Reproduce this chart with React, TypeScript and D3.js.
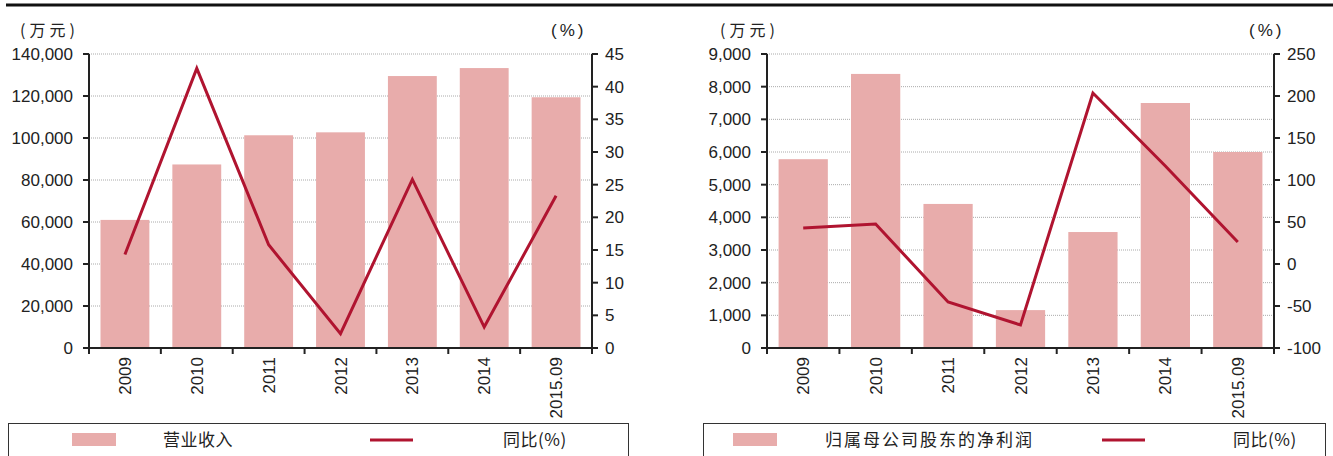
import React from "react";
import * as d3 from "d3";

const years = ["2009", "2010", "2011", "2012", "2013", "2014", "2015.09"];

// 营业收入 (万元) and yoy growth (%)
const revenue = [61000, 87400, 101300, 102700, 129500, 133300, 119400];
const revenueYoy = [14.3, 42.8, 15.8, 2.2, 25.8, 3.2, 23.3];

// 归属母公司股东的净利润 (万元) and yoy growth (%)
const netProfit = [5780, 8390, 4410, 1160, 3550, 7500, 6000];
const netProfitYoy = [42.9, 47.6, -45.2, -72.6, 203.6, 116.7, 26.2];

const revenueTicks = [0, 20000, 40000, 60000, 80000, 100000, 120000, 140000];
const revenueYoyTicks = [0, 5, 10, 15, 20, 25, 30, 35, 40, 45];
const profitTicks = [0, 1000, 2000, 3000, 4000, 5000, 6000, 7000, 8000, 9000];
const profitYoyTicks = [-100, -50, 0, 50, 100, 150, 200, 250];

const BAR = "#e8acab";
const LINE = "#b01430";
const AXIS = "#222";
const NUM_FONT = "'Liberation Sans', Arial, sans-serif";
const CJK_FONT = "'Noto Sans CJK SC', 'Noto Sans', sans-serif";

const fmt = d3.format(",");

interface PanelProps {
  x0: number;
  x1: number;
  bars: number[];
  yoy: number[];
  leftTicks: number[];
  rightTicks: number[];
  barLabel: string;
  labelSpacing: number;
  unitX: number;
  pctX: number;
  legend: { boxX: number; boxW: number; swatchX: number; textX: number; lineX: number; yoyX: number };
}

const yTop = 54;
const yBottom = 348;

function Panel({ x0, x1, bars, yoy, leftTicks, rightTicks, barLabel, labelSpacing, unitX, pctX, legend }: PanelProps) {
  const x = d3.scaleBand<string>().domain(years).range([x0, x1]).paddingInner(0.32).paddingOuter(0.16);
  const yL = d3.scaleLinear().domain([leftTicks[0], leftTicks[leftTicks.length - 1]]).range([yBottom, yTop]);
  const yR = d3.scaleLinear().domain([rightTicks[0], rightTicks[rightTicks.length - 1]]).range([yBottom, yTop]);
  const step = x.step();
  const line = d3.line<number>()
    .x((_, i) => (x(years[i]) as number) + x.bandwidth() / 2)
    .y(d => yR(d));

  return (
    <g>
      <text x={unitX} y={36} fontFamily={CJK_FONT} fontSize={16} letterSpacing={4} fill="#222">(万元)</text>
      <text x={pctX} y={36} fontFamily={NUM_FONT} fontSize={17} letterSpacing={3} fill="#222">(%)</text>

      {leftTicks.slice(1).map(t => (
        <line key={"g" + t} x1={x0} x2={x1} y1={yL(t)} y2={yL(t)} stroke="#aaa" strokeWidth={1} strokeDasharray="1,1" />
      ))}

      {bars.map((v, i) => (
        <rect key={years[i]} x={x(years[i])} y={yL(v)} width={x.bandwidth()} height={yBottom - yL(v)} fill={BAR} />
      ))}

      <path d={line(yoy) || ""} fill="none" stroke={LINE} strokeWidth={3} strokeLinejoin="miter" />

      {/* left axis */}
      <line x1={x0} x2={x0} y1={yTop} y2={yBottom} stroke={AXIS} strokeWidth={2} />
      {leftTicks.map(t => (
        <g key={"l" + t}>
          <line x1={x0 - 6} x2={x0} y1={yL(t)} y2={yL(t)} stroke={AXIS} strokeWidth={2} />
          <text x={x0 - 16} y={yL(t)} dy="0.36em" textAnchor="end" fontFamily={NUM_FONT} fontSize={17} fill="#222">
            {fmt(t)}
          </text>
        </g>
      ))}

      {/* right axis */}
      <line x1={x1} x2={x1} y1={yTop} y2={yBottom} stroke={AXIS} strokeWidth={2} />
      {rightTicks.map(t => (
        <g key={"r" + t}>
          <line x1={x1} x2={x1 + 6} y1={yR(t)} y2={yR(t)} stroke={AXIS} strokeWidth={2} />
          <text x={x1 + 13} y={yR(t)} dy="0.36em" fontFamily={NUM_FONT} fontSize={17} fill="#222">
            {t}
          </text>
        </g>
      ))}

      {/* x axis */}
      <line x1={x0} x2={x1} y1={yBottom} y2={yBottom} stroke={AXIS} strokeWidth={2} />
      {d3.range(years.length + 1).map(i => (
        <line key={"xt" + i} x1={x0 + i * step} x2={x0 + i * step} y1={yBottom} y2={yBottom + 6} stroke={AXIS} strokeWidth={2} />
      ))}
      {years.map(yr => {
        const cx = (x(yr) as number) + x.bandwidth() / 2;
        return (
          <text key={"xl" + yr} transform={`translate(${cx},${yBottom + 9}) rotate(-90)`} dy="0.36em" textAnchor="end"
            fontFamily={NUM_FONT} fontSize={17} fill="#222">
            {yr}
          </text>
        );
      })}

      {/* legend */}
      <rect x={legend.boxX + 0.5} y={423.5} width={legend.boxW} height={50} fill="none" stroke="#333" strokeWidth={1} />
      <rect x={legend.swatchX} y={433} width={44} height={13} fill={BAR} />
      <text x={legend.textX} y={446} fontFamily={CJK_FONT} fontSize={17} letterSpacing={labelSpacing} fill="#222">{barLabel}</text>
      <line x1={legend.lineX} x2={legend.lineX + 43} y1={440} y2={440} stroke={LINE} strokeWidth={3} />
      <text x={legend.yoyX} y={446} fontFamily={CJK_FONT} fontSize={17} letterSpacing={0.5} fill="#222">同比(%)</text>
    </g>
  );
}

export default function App() {
  return (
    <div style={{ position: "absolute", left: 0, top: 0 }}>
      <svg width={1333} height={456} style={{ display: "block", background: "#fff" }}>
        <line x1={6} x2={1333} y1={5} y2={5} stroke="#111" strokeWidth={3} />
        <Panel
          x0={89}
          x1={592}
          bars={revenue}
          yoy={revenueYoy}
          leftTicks={revenueTicks}
          rightTicks={revenueYoyTicks}
          barLabel="营业收入"
          labelSpacing={0.5}
          unitX={20}
          pctX={551}
          legend={{ boxX: 8, boxW: 620, swatchX: 72, textX: 163, lineX: 370, yoyX: 503 }}
        />
        <Panel
          x0={767}
          x1={1274}
          bars={netProfit}
          yoy={netProfitYoy}
          leftTicks={profitTicks}
          rightTicks={profitYoyTicks}
          barLabel="归属母公司股东的净利润"
          labelSpacing={2}
          unitX={720}
          pctX={1249}
          legend={{ boxX: 703, boxW: 622, swatchX: 733, textX: 825, lineX: 1102, yoyX: 1233 }}
        />
      </svg>
    </div>
  );
}
